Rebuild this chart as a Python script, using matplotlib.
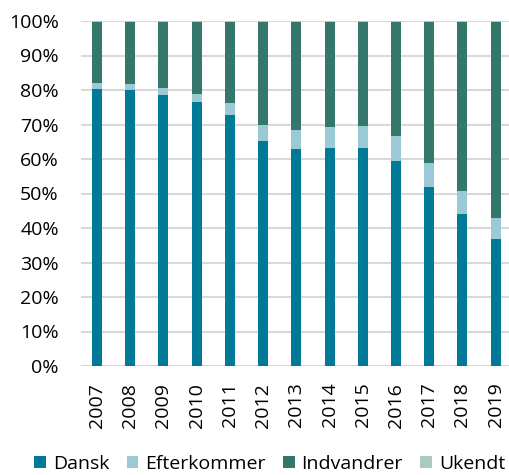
import numpy as np
import matplotlib.pyplot as plt

plt.rcParams['font.family'] = ['Open Sans', 'DejaVu Sans']

years = ['2007', '2008', '2009', '2010', '2011', '2012', '2013',
         '2014', '2015', '2016', '2017', '2018', '2019']
dansk = np.array([80.3, 80.0, 78.6, 76.5, 72.8, 65.1, 62.8, 63.1, 63.3, 59.4, 51.9, 44.1, 36.8])
efterkommer = np.array([1.7, 1.8, 2.1, 2.4, 3.3, 4.9, 5.6, 6.1, 6.4, 7.3, 6.9, 6.6, 6.0])
ukendt = np.array([0.2, 0.2, 0.2, 0.2, 0.2, 0.2, 0.2, 0.2, 0.2, 0.2, 0.2, 0.2, 0.2])
indvandrer = 100 - dansk - efterkommer - ukendt

c_dansk = '#007a97'
c_efter = '#9bcad6'
c_indv = '#33786a'
c_ukendt = '#a9c9c2'

fig = plt.figure(figsize=(5.09, 4.75), dpi=100)
ax = fig.add_axes([81/509, 1 - 366/475, (509 - 81)/509, (366 - 21)/475])

x = np.arange(len(years))
w = 0.3
ax.bar(x, dansk, w, color=c_dansk, label='Dansk', zorder=3)
ax.bar(x, efterkommer, w, bottom=dansk, color=c_efter, label='Efterkommer', zorder=3)
ax.bar(x, indvandrer, w, bottom=dansk + efterkommer, color=c_indv, label='Indvandrer', zorder=3)
ax.bar(x, ukendt, w, bottom=dansk + efterkommer + indvandrer, color=c_ukendt, label='Ukendt', zorder=3)

ax.set_ylim(0, 100)
ax.set_xlim(-0.48, 12.4)
ax.set_yticks(range(0, 101, 10))
ax.set_yticklabels([f'{v}%' for v in range(0, 101, 10)], fontsize=14)
ax.set_xticks(x)
ax.set_xticklabels(years, rotation=90, fontsize=14)
ax.tick_params(length=0)
ax.tick_params(axis='y', pad=16)
ax.tick_params(axis='x', pad=12)
ax.grid(axis='y', color='#d9d9d9', linewidth=1.5, zorder=0)
ax.set_axisbelow(True)
for s in ax.spines.values():
    s.set_visible(False)

fig.legend(loc='lower center', bbox_to_anchor=(0.53, -0.032), ncol=4, frameon=False,
           fontsize=14, handlelength=0.6, handleheight=0.6, handletextpad=0.35,
           columnspacing=0.9)

fig.savefig('out.png', dpi=100)
